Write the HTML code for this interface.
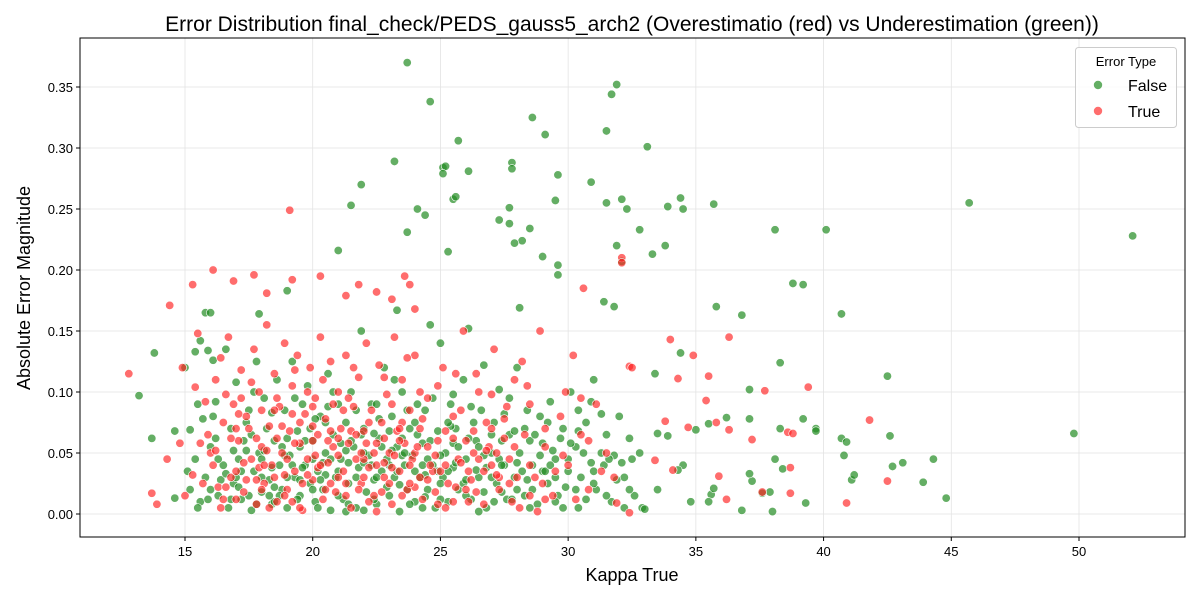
<!DOCTYPE html>
<html><head><meta charset="utf-8"><style>
body{margin:0;background:#fff;font-family:"Liberation Sans","DejaVu Sans",sans-serif}
svg{display:block}
</style></head><body>
<svg id="chart" width="1200" height="600" xmlns="http://www.w3.org/2000/svg"></svg>
<script>
const xTicks=[15,20,25,30,35,40,45,50];
const yTicks=[0,0.05,0.10,0.15,0.20,0.25,0.30,0.35];
const yTickLabels=["0.00","0.05","0.10","0.15","0.20","0.25","0.30","0.35"];
const falsePoints=[[23.7,.37],[24.6,.338],[31.9,.352],[31.7,.344],[28.6,.325],[31.5,.314],[25.7,.306],[29.1,.311],[33.1,.301],[23.2,.289],[27.8,.288],[27.8,.283],[25.1,.284],[25.2,.285],[26.1,.281],[25.1,.279],[29.6,.278],[21.9,.27],[30.9,.272],[25.5,.258],[25.6,.26],[29.5,.257],[31.5,.255],[32.1,.258],[32.3,.25],[35.7,.254],[34.4,.259],[34.5,.25],[33.9,.252],[27.7,.251],[24.1,.25],[21.5,.253],[24.4,.245],[27.3,.241],[27.7,.238],[28.5,.234],[32.8,.233],[38.1,.233],[40.1,.233],[45.7,.255],[52.1,.228],[23.7,.231],[28.2,.224],[27.9,.222],[31.9,.22],[33.8,.22],[21,.216],[25.3,.215],[29,.211],[33.3,.213],[32.1,.207],[29.6,.204],[29.6,.196],[38.8,.189],[39.2,.188],[19,.183],[31.4,.174],[31.8,.17],[35.8,.17],[28.1,.169],[36.8,.163],[40.7,.164],[17.9,.164],[15.8,.165],[23.3,.167],[34.4,.132],[33.4,.115],[37.1,.102],[42.5,.113],[38.3,.124],[49.8,.066],[40.7,.062],[40.9,.059],[41.1,.028],[41.2,.032],[43.1,.042],[42.6,.064],[42.7,.039],[43.9,.026],[44.3,.045],[44.8,.013],[40.8,.048],[39.7,.07],[39.7,.068],[39.2,.078],[38.3,.07],[38.1,.045],[38.4,.037],[39.3,.009],[37.9,.018],[37.6,.017],[37.2,.027],[37.1,.033],[36.8,.003],[38,.002],[37.1,.078],[36.2,.079],[35.5,.074],[35.6,.016],[35.7,.021],[35.5,.01],[34.5,.04],[34.8,.01],[35,.069],[34.3,.036],[33.9,.064],[33.5,.02],[33.5,.066],[32.9,.005],[13.2,.097],[13.7,.062],[13.8,.132],[14.6,.068],[14.6,.013],[15,.12],[15.2,.069],[15.4,.133],[15.5,.09],[15.6,.142],[15.9,.134],[16,.165],[16.1,.126],
[15.2,.02],[15.4,.045],[15.6,.01],[15.7,.078],[15.8,.03],[16,.055],[16.2,.092],[16.3,.015],[16.5,.04],[16.6,.135],[16.7,.005],[16.8,.07],[16.9,.025],[17,.108],[17.1,.045],[17.2,.012],[17.3,.06],[17.5,.085],[17.6,.003],[17.7,.035],[17.8,.125],[17.9,.05],[18,.018],[18.1,.095],[18.2,.07],[18.3,.028],[18.4,.008],[18.5,.06],[18.6,.11],[18.7,.04],[18.8,.02],[18.9,.085],[19,.005],[19.1,.048],[19.2,.125],[19.3,.03],[19.4,.068],[19.5,.015],[19.6,.09],[19.7,.04],[19.8,.105],[19.9,.025],[20,.06],[20.1,.01],[20.2,.035],[20.3,.08],[20.4,.02],[20.5,.05],[20.6,.115],[20.7,.003],[20.8,.065],[20.9,.03],[21,.09],[21.1,.045],[21.2,.012],[21.3,.075],[21.4,.025],[21.5,.1],[21.6,.055],[21.7,.005],[21.8,.038],[21.9,.15],[22,.07],[22.1,.018],[22.2,.048],[22.3,.09],[22.4,.028],[22.5,.008],[22.6,.062],[22.7,.035],[22.8,.12],[22.9,.045],[23,.015],[23.1,.08],[23.2,.03],[23.3,.055],[23.4,.002],[23.5,.1],[23.6,.04],[23.7,.02],[23.8,.07],[23.9,.048],[24,.01],[24.1,.09],[24.2,.03],[24.3,.058],[24.4,.085],[24.5,.02],[24.6,.155],[24.7,.04],[24.8,.005],[24.9,.068],[25,.14],[25.1,.03],[25.2,.05],[25.3,.01],[25.4,.09],[25.5,.038],[25.6,.07],[25.7,.02],[25.9,.11],[26,.045],[26.1,.152],[26.2,.012],[26.4,.06],[26.5,.03],[26.6,.085],[26.7,.122],[26.8,.005],[27,.05],[27.1,.075],[27.2,.025],[27.3,.102],[27.5,.04],[27.6,.012],[27.7,.065],[27.9,.03],[28,.12],[28.1,.05],[28.3,.015],[28.4,.085],[28.6,.04],[28.8,.008],[28.9,.08],[29,.058],[29.2,.025],[29.3,.092],[29.5,.045],[29.6,.015],[29.8,.07],[30,.035],[30.1,.1],[30.3,.055],[30.4,.005],[30.5,.03],[30.7,.075],[30.9,.042],[31,.11],[31.1,.02],[31.3,.05],[31.5,.065],[31.7,.01],[31.8,.048],[32,.08],[32.2,.03],[32.4,.062],[32.6,.015],[32.8,.05],[33,.004],
[16,.02],[17,.03],[18,.045],[19,.03],[20,.02],[21,.035],[22,.05],[23,.04],[24,.035],[25,.025],[26,.015],[27,.03],[28,.02],[29,.035],[30,.045],[31,.025],[17.5,.015],[18.5,.01],[19.5,.055],[20.5,.075],[21.5,.06],[22.5,.03],[23.5,.062],[24.5,.045],[25.5,.058],[26.5,.002],[27.5,.082],[28.5,.06],[29.5,.01],[16.4,.028],[17.4,.052],[18.4,.038],[19.4,.012],[20.4,.042],[21.4,.008],[22.4,.066],[23.4,.024],[24.4,.014],[25.4,.072],[26.4,.036],[27.4,.018],[28.4,.028],[29.4,.052],[30.4,.068],[31.4,.04],[32.4,.02],
[15.1,.035],[15.9,.012],[16.2,.062],[16.6,.033],[17.1,.022],[17.4,.075],[17.8,.008],[18.1,.052],[18.4,.083],[18.7,.015],[19,.062],[19.3,.095],[19.6,.038],[19.9,.07],[20.2,.005],[20.5,.032],[20.8,.1],[21.1,.058],[21.4,.042],[21.7,.085],[22,.003],[22.3,.04],[22.6,.078],[22.9,.022],[23.2,.11],[23.5,.048],[23.8,.008],[24.1,.065],[24.4,.032],[24.7,.095],[25,.012],[25.3,.075],[25.6,.042],[25.9,.025],[26.2,.088],[26.5,.055],[26.8,.038],[27.1,.01],[27.4,.06],[27.7,.095],[28,.042],[28.3,.07],[28.6,.02],[28.9,.048],[29.2,.075],[29.5,.03],[29.8,.005],[30.1,.058],[30.4,.085],[30.7,.012],[31,.035],[31.3,.082],[31.6,.045],[31.9,.028],[32.2,.005],[32.5,.045],
[15.5,.005],[16.1,.08],[16.9,.052],[17.7,.1],[18.3,.015],[18.9,.048],[19.5,.028],[20.1,.078],[20.7,.045],[21.3,.002],[21.9,.065],[22.5,.09],[23.1,.052],[23.7,.085],[24.3,.005],[24.9,.035],[25.5,.098],[26.1,.062],[26.7,.018],[27.3,.045],[27.9,.068],[28.5,.005],[29.1,.035],[29.7,.062],[30.3,.02],[30.9,.092],[31.5,.015],[32.1,.042],
[16.3,.045],[16.8,.012],[17.2,.035],[17.6,.065],[18,.03],[18.5,.022],[18.8,.055],[19.2,.04],[19.7,.06],[20,.045],[20.3,.028],[20.6,.088],[21,.015],[21.3,.052],[21.7,.03],[22,.042],[22.4,.012],[22.7,.055],[23,.068],[23.3,.035],[23.6,.05],[24,.075],[24.3,.04],[24.6,.06],[25,.048],[25.3,.035],[25.7,.055],[26,.028],[26.3,.075],[26.7,.048],[27,.065],[27.4,.04],[27.8,.012],[28.2,.035],[28.7,.065],[29.3,.04],[29.9,.022],[30.6,.05]];
const truePoints=[[12.8,.115],[13.7,.017],[13.9,.008],[14.3,.045],[14.4,.171],[15.3,.188],[16.1,.2],[16.9,.191],[17.7,.196],[18.2,.181],[19.1,.249],[19.2,.192],[20.3,.195],[21.3,.179],[21.8,.188],[22.5,.182],[23.1,.176],[23.6,.195],[23.8,.188],[24,.168],[30.6,.185],[32.1,.21],[32.1,.206],[36.3,.145],[34,.143],[34.9,.13],[37.7,.101],[39.4,.104],[41.8,.077],[35.5,.113],[35.4,.093],[35.8,.075],[36.3,.069],[37.2,.061],[38.6,.067],[38.8,.066],[38.7,.038],[38.7,.017],[40.9,.009],[42.5,.027],[37.6,.018],[36.2,.012],[35.9,.031],[34.7,.071],[34.3,.111],[33.8,.076],[34.1,.036],[33.4,.044],[32.4,.121],[32.5,.12],[32.4,.001],[31.9,.009],[14.8,.058],[14.9,.12],[15,.015],[15.4,.104],[15.5,.148],[15.7,.025],[15.9,.065],[16.1,.04],[16.2,.11],[16.4,.005],[16.5,.075],[16.7,.145],[16.8,.03],[16.9,.09],[17.1,.06],[17.2,.118],[17.3,.018],[17.4,.08],[17.6,.045],[17.7,.135],[17.8,.008],[17.9,.1],[18,.055],[18.1,.025],[18.2,.155],[18.3,.072],[18.4,.04],[18.5,.115],[18.6,.01],[18.7,.088],[18.8,.05],[18.9,.14],[19,.02],[19.1,.068],[19.2,.105],[19.3,.035],[19.4,.13],[19.5,.058],[19.6,.003],[19.7,.082],[19.8,.045],[19.9,.12],[20,.028],[20.1,.095],[20.2,.065],[20.3,.145],[20.4,.012],[20.5,.078],[20.6,.042],[20.7,.125],[20.8,.055],[20.9,.018],[21,.1],[21.1,.07],[21.2,.035],[21.3,.13],[21.4,.058],[21.5,.005],[21.6,.088],[21.7,.045],[21.8,.112],[21.9,.025],[22,.068],[22.1,.14],[22.2,.038],[22.3,.085],[22.4,.015],[22.5,.058],[22.6,.122],[22.7,.075],[22.8,.03],[22.9,.098],[23,.05],[23.1,.008],[23.2,.145],[23.3,.068],[23.4,.035],[23.5,.11],[23.6,.058],[23.7,.02],[23.8,.085],[23.9,.045],[24,.13],[24.2,.07],[24.3,.012],[24.5,.095],[24.7,.035],[24.9,.06],[25.1,.12],[25.3,.025],[25.5,.08],[25.7,.045],[25.9,.15],[26.1,.01],[26.3,.068],[26.5,.1],[26.7,.035],[26.9,.055],[27.1,.135],[27.3,.02],[27.5,.078],[27.7,.045],[27.9,.11],[28.1,.005],[28.3,.065],[28.5,.09],[28.7,.03],[28.9,.15],[29.1,.055],[29.4,.015],[29.7,.08],[30,.04],[30.2,.13],[30.5,.065],[30.8,.02],[31.1,.09],[31.5,.05],[31.8,.03],
[16,.05],[17,.035],[18,.02],[19,.045],[20,.06],[21,.03],[22,.045],[23,.025],[24,.05],[25,.035],[26,.02],[27,.04],[28,.03],[29,.025],[16.5,.012],[17.5,.07],[18.5,.03],[19.5,.075],[20.5,.02],[21.5,.068],[22.5,.04],[23.5,.015],[24.5,.055],[25.5,.01],[26.5,.045],[27.5,.062],[28.5,.015],[17.2,.095],[18.2,.052],[19.2,.01],[20.2,.038],[21.2,.085],[22.2,.01],[23.2,.048],[24.2,.03],[25.2,.068],[26.2,.028],[27.2,.05],[16.8,.062],[17.8,.028],[18.8,.072],[19.8,.032],[20.8,.09],[21.8,.02],[22.8,.062],[23.8,.04],[24.8,.018],[25.8,.042],[26.8,.075],[27.8,.01],
[15.3,.032],[15.8,.092],[16.3,.022],[16.6,.098],[17,.012],[17.3,.042],[17.6,.108],[18,.085],[18.3,.005],[18.6,.062],[18.9,.032],[19.2,.082],[19.5,.005],[19.8,.1],[20.1,.048],[20.4,.11],[20.7,.025],[21,.062],[21.3,.015],[21.6,.12],[21.9,.05],[22.2,.075],[22.5,.002],[22.8,.042],[23.1,.09],[23.4,.06],[23.7,.128],[24,.022],[24.3,.078],[24.6,.04],[24.9,.105],[25.2,.005],[25.5,.062],[25.8,.085],[26.1,.035],[26.4,.115],[26.7,.008],[27,.07],[27.3,.03],[27.6,.088],[27.9,.055],[28.2,.125],[28.5,.04],[28.8,.002],[29.1,.07],[29.5,.035],[29.9,.1],[30.3,.012],[30.8,.06],[31.3,.035],
[15.6,.058],[16.4,.128],[17.1,.082],[17.9,.038],[18.6,.095],[19.3,.118],[20,.088],[20.7,.068],[21.4,.095],[22.1,.058],[22.8,.112],[23.5,.075],[24.2,.1],[24.9,.008],[25.6,.115],[26.3,.05],[27,.098],[27.7,.025],[28.4,.105],[29.1,.012],[29.8,.048],[30.5,.095],
[16.2,.052],[16.6,.022],[17,.07],[17.4,.028],[17.8,.062],[18.1,.04],[18.5,.085],[18.9,.015],[19.3,.058],[19.6,.025],[20,.072],[20.3,.04],[20.6,.06],[21,.048],[21.3,.025],[21.7,.065],[22,.03],[22.4,.05],[22.7,.018],[23.1,.038],[23.4,.07],[23.8,.025],[24.1,.055],[24.5,.028],[24.8,.048],[25.2,.04],[25.6,.022],[26,.06],[26.4,.018],[26.8,.052],[27.2,.032]];
const NS="http://www.w3.org/2000/svg";
const svg=document.getElementById('chart');
const L=80,R=1185,T=38,B=537;
const xs=v=>185+(v-15)*(894/35);
const ys=v=>514-v*(427/0.35);
function el(tag,attrs,parent){const e=document.createElementNS(NS,tag);for(const k in attrs)e.setAttribute(k,attrs[k]);(parent||svg).appendChild(e);return e;}
const grid=el('g',{});


xTicks.forEach(t=>{el('line',{x1:xs(t),x2:xs(t),y1:T,y2:B,stroke:'#e3e3e3','stroke-width':0.8},grid);});
yTicks.forEach(t=>{el('line',{x1:L,x2:R,y1:ys(t),y2:ys(t),stroke:'#e3e3e3','stroke-width':0.8},grid);});
const pts=el('g',{});


falsePoints.forEach(p=>{const c=el('circle',{cx:xs(p[0]),cy:ys(p[1]),r:4.2,fill:'rgba(34,139,34,0.7)',stroke:'#fff','stroke-width':0.6},pts);

});
truePoints.forEach(p=>{const c=el('circle',{cx:xs(p[0]),cy:ys(p[1]),r:4.2,fill:'rgba(255,30,30,0.65)',stroke:'#fff','stroke-width':0.6},pts);

});
el('rect',{x:L,y:T,width:R-L,height:B-T,fill:'none',stroke:'#000','stroke-width':1});
xTicks.forEach(t=>{el('line',{x1:xs(t),x2:xs(t),y1:B,y2:B+4,stroke:'#000'});
const tx=el('text',{x:xs(t),y:B+19,'text-anchor':'middle','font-size':13,fill:'#000'});tx.textContent=t;

});
yTicks.forEach((t,i)=>{el('line',{x1:L-4,x2:L,y1:ys(t),y2:ys(t),stroke:'#000'});
const tx=el('text',{x:L-7,y:ys(t)+5,'text-anchor':'end','font-size':13,fill:'#000'});tx.textContent=yTickLabels[i];

});
</script>
<svg style="position:absolute;left:0;top:0" width="1200" height="600" xmlns="http://www.w3.org/2000/svg">
<text x="632" y="31" text-anchor="middle" font-size="21" fill="#000">Error Distribution final_check/PEDS_gauss5_arch2 (Overestimatio (red) vs Underestimation (green))</text>
<text x="632" y="581" text-anchor="middle" font-size="18" fill="#000">Kappa True</text>
<text transform="translate(30,288) rotate(-90)" text-anchor="middle" font-size="18" fill="#000">Absolute Error Magnitude</text>
<g>
<rect x="1075.5" y="47.5" width="101" height="80" rx="3" fill="#fff" fill-opacity="0.8" stroke="#ccc"/>
<text x="1126" y="66" text-anchor="middle" font-size="13" fill="#000">Error Type</text>
<g><circle cx="1098" cy="85" r="4.2" fill="rgba(34,139,34,0.7)"/><text x="1128" y="91" font-size="16" fill="#000">False</text></g>
<g><circle cx="1098" cy="111" r="4.2" fill="rgba(255,30,30,0.65)"/><text x="1128" y="117" font-size="16" fill="#000">True</text></g>
</g>
</svg>
</body></html>
